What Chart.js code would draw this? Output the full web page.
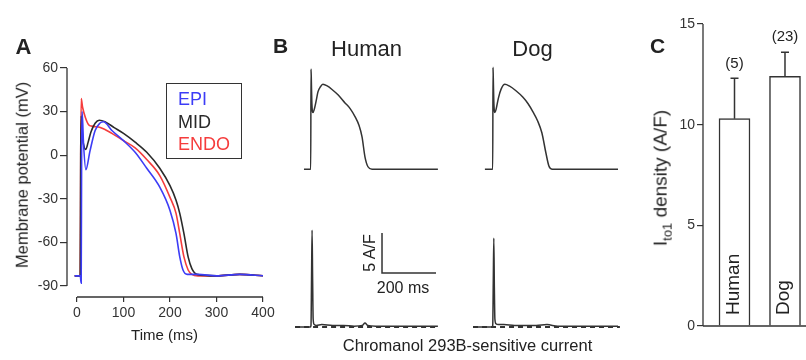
<!DOCTYPE html>
<html>
<head>
<meta charset="utf-8">
<script src="https://cdn.jsdelivr.net/npm/chart.js@4.4.1/dist/chart.umd.min.js"></script>
<style>
  body { margin: 0; background: #fff; }
  #wrap { position: relative; width: 806px; height: 360px; overflow: hidden; font-family: "Liberation Sans", Arial, sans-serif; color: #222; }
  canvas { position: absolute; }
  .lbl { position: absolute; white-space: nowrap; line-height: 1; transform: translate(-50%, -50%); }
  .rot { position: absolute; white-space: nowrap; line-height: 1; transform: translate(-50%, -50%) rotate(-90deg); }
  .panel { font-weight: bold; font-size: 22px; }
  #legendA { position: absolute; left: 166px; top: 83px; width: 76px; height: 76px; box-sizing: border-box;
             border: 1.5px solid #333; padding: 4px 0 0 11px; font-size: 18px; line-height: 22.5px; }
</style>
</head>
<body>
<div id="wrap">
  <canvas id="chartA" width="280" height="360" style="left:0;top:0"></canvas>
  <canvas id="hAP" width="150" height="120" style="left:295px;top:60px"></canvas>
  <canvas id="dAP" width="150" height="120" style="left:470px;top:60px"></canvas>
  <canvas id="hCur" width="150" height="120" style="left:295px;top:220px"></canvas>
  <canvas id="dCur" width="150" height="120" style="left:470px;top:220px"></canvas>
  <canvas id="chartC" width="186" height="360" style="left:620px;top:0"></canvas>

  <div class="lbl panel" style="left:23.5px;top:46.5px">A</div>
  <div class="lbl panel" style="left:280.5px;top:44.5px;font-size:21px">B</div>
  <div class="lbl panel" style="left:657.5px;top:45px;font-size:21px">C</div>

  <div class="rot" style="left:22px;top:175px;font-size:16.5px">Membrane potential (mV)</div>
  <div class="lbl" style="left:164.5px;top:334px;font-size:15px">Time (ms)</div>
  <div id="legendA"></div>

  <div class="lbl" style="left:366.5px;top:49px;font-size:22px">Human</div>
  <div class="lbl" style="left:532.5px;top:49px;font-size:22px">Dog</div>
  <div class="rot" style="left:370px;top:253px;font-size:16px">5 A/F</div>
  <div class="lbl" style="left:403px;top:288px;font-size:16px">200 ms</div>
  <div class="lbl" style="left:467.5px;top:345px;font-size:16.5px">Chromanol 293B-sensitive current</div>

  <div class="rot" style="left:662px;top:178px;font-size:19px">I<sub style="font-size:13px">to1</sub> density (A/F)</div>
</div>

<script>
Chart.defaults.font.family = '"Liberation Sans", Arial, sans-serif';
Chart.defaults.color = '#333';

// panel A: action potentials (ms, mV)
var epiT = [-5, 7, 9, 10, 11, 14, 19, 28, 39, 49, 57, 75, 100, 125, 150, 178, 200, 213, 221, 228, 237, 260, 300, 350, 400];
var epiV = [-83, -83, -88, 5, 30, 8, -10, 3, 17, 22, 23, 17, 10, 2, -9, -22, -38, -54, -70, -79, -82, -82, -83, -82, -83];
var midT = [-5, 7, 8, 9, 12, 16, 19, 24, 30, 39, 48, 60, 80, 100, 125, 150, 178, 200, 213, 221, 230, 239, 247, 258, 300, 350, 400];
var midV = [-83, -83, 0, 27, 12, 5, 4, 9, 16, 22, 24, 23, 19, 15, 9, 2, -9, -21, -31, -40, -54, -70, -78, -82, -83, -82, -83];
var endoT = [-5, 7, 8, 9, 12, 18, 25, 32, 50, 75, 100, 125, 150, 178, 200, 213, 221, 230, 239, 247, 260, 300, 350, 400];
var endoV = [-83, -83, 0, 39, 33, 26, 21, 20, 19, 15, 10, 5, -3, -14, -29, -40, -54, -70, -79, -82, -83, -83, -82, -83];
var xTicksA = [0, 100, 200, 300, 400];
var yTicksA = [-90, -60, -30, 0, 30, 60];

// panel B: human / dog AP (mV) and chromanol 293B-sensitive current (A/F)
var hApT = [-26, -1, 0, 1, 3, 5, 7, 12, 20, 26, 35, 44, 60, 80, 100, 126, 145, 163, 178, 189, 200, 211, 226, 260, 350, 470];
var hApV = [-84, -84, 40, 30, 0, -12, -14, -10, 2, 12, 18, 21, 19, 14, 8, -2, -9, -19, -30, -44, -69, -81, -84, -84, -84, -84];
var dApT = [-30, -1, 0, 1, 3, 5, 7, 12, 20, 30, 44, 60, 85, 111, 130, 148, 165, 181, 196, 207, 220, 260, 350, 463];
var dApV = [-84, -84, 42, 30, 0, -12, -14, -9, 4, 15, 21, 19, 13, 5, -3, -13, -24, -39, -64, -80, -84, -84, -84, -84];
var hCurT = [-59, -2, 0, 2, 4, 6, 8, 12, 20, 40, 80, 120, 160, 190, 200, 210, 240, 300, 380, 470];
var hCurI = [0, 0, 0.2, 6, 12.1, 6, 1, 0.3, 0.2, 0.3, 0.2, 0.2, 0.1, 0.2, 0.5, 0.2, 0.1, 0.1, 0.1, 0.1];
var dCurT = [-74, -3, -1, 1, 3, 5, 7, 11, 20, 40, 80, 120, 160, 200, 240, 300, 380, 463];
var dCurI = [0, 0, 0.2, 5.5, 11.1, 5, 1, 0.4, 0.3, 0.3, 0.2, 0.2, 0.2, 0.3, 0.1, 0.1, 0.1, 0.1];
var hZeroT = [-59, 470];
var dZeroT = [-74, 470];
var barT = [263, 263, 463];      // 200 ms
var barI = [11.75, 6.75, 6.75];  // 5 A/F

// panel C: Ito1 density
var groups = ['Human', 'Dog'];
var density = [10.3, 12.4];
var sem = [2.0, 1.2];
var nCells = ['(5)', '(23)'];
var yTicksC = [0, 5, 10, 15];

function pts(xs, ys) {
  return xs.map(function (x, i) { return { x: x, y: ys[i] }; });
}

// axis lines drawn only over the ticked range
var axisLines = {
  id: 'axisLines',
  afterDraw: function (chart, args, opts) {
    var ctx = chart.ctx, a = chart.chartArea, x = chart.scales.x, y = chart.scales.y;
    ctx.save();
    ctx.strokeStyle = '#333';
    ctx.lineWidth = 1.3;
    ctx.beginPath();
    ctx.moveTo(a.left, y.getPixelForValue(opts.yFrom));
    ctx.lineTo(a.left, y.getPixelForValue(opts.yTo));
    ctx.moveTo(opts.xFrom == null ? a.left : x.getPixelForValue(opts.xFrom), a.bottom);
    ctx.lineTo(opts.xTo == null ? a.right : x.getPixelForValue(opts.xTo), a.bottom);
    ctx.stroke();
    ctx.restore();
  }
};

var chartA = new Chart(document.getElementById('chartA'), {
  type: 'line',
  data: {
    datasets: [
      { label: 'EPI', data: pts(epiT, epiV), borderColor: '#3c3cf6' },
      { label: 'MID', data: pts(midT, midV), borderColor: '#2a2a2a' },
      { label: 'ENDO', data: pts(endoT, endoV), borderColor: '#f53c3c' }
    ]
  },
  plugins: [axisLines],
  options: {
    responsive: false, animation: false, events: [],
    layout: { padding: { left: 0, top: 68, right: 17, bottom: 0 } },
    elements: { point: { radius: 0 }, line: { borderWidth: 1.6, cubicInterpolationMode: 'monotone' } },
    plugins: { legend: { display: false }, tooltip: { enabled: false },
      axisLines: { xFrom: 0, xTo: 400, yFrom: -90, yTo: 60 } },
    scales: {
      x: {
        type: 'linear', min: -21.5, max: 400,
        afterBuildTicks: function (s) { s.ticks = xTicksA.map(function (v) { return { value: v }; }); },
        afterFit: function (s) { s.height = 63; },
        grid: { drawOnChartArea: false, tickLength: 5, color: '#333', lineWidth: 1.2 },
        border: { display: false },
        ticks: { font: { size: 14 }, padding: 3, maxRotation: 0 }
      },
      y: {
        min: -97.57, max: 60,
        afterBuildTicks: function (s) { s.ticks = yTicksA.map(function (v) { return { value: v }; }); },
        afterFit: function (s) { s.width = 67; },
        grid: { drawOnChartArea: false, tickLength: 7, color: '#333', lineWidth: 1.2 },
        border: { display: false },
        ticks: { font: { size: 14 }, padding: 2 }
      }
    }
  }
});

// html legend from the datasets
var legendBox = document.getElementById('legendA');
chartA.data.datasets.forEach(function (ds) {
  var d = document.createElement('div');
  d.textContent = ds.label;
  d.style.color = ds.borderColor;
  legendBox.appendChild(d);
});

function traceChart(id, datasets, xMin, xMax, yMin, yMax) {
  return new Chart(document.getElementById(id), {
    type: 'line',
    data: { datasets: datasets },
    options: {
      responsive: false, animation: false, events: [],
      layout: { padding: 0 },
      plugins: { legend: { display: false }, tooltip: { enabled: false } },
      elements: { point: { radius: 0 }, line: { borderWidth: 1.5, borderColor: '#333', cubicInterpolationMode: 'monotone' } },
      scales: {
        x: { type: 'linear', display: false, min: xMin, max: xMax },
        y: { display: false, min: yMin, max: yMax }
      }
    }
  });
}

traceChart('hAP', [{ data: pts(hApT, hApV) }], -59.26, 496.3, -97.4, 51.1);
traceChart('dAP', [{ data: pts(dApT, dApV) }], -85.19, 470.37, -97.4, 51.1);
traceChart('hCur', [
  { data: pts(hCurT, hCurI) },
  { data: pts(hZeroT, [0, 0]), borderDash: [5, 4], borderWidth: 1.8 },
  { data: pts(barT, barI), cubicInterpolationMode: 'default', tension: 0 }
], -59.26, 496.3, -1.625, 13.375);
traceChart('dCur', [
  { data: pts(dCurT, dCurI) },
  { data: pts(dZeroT, [0, 0]), borderDash: [5, 4], borderWidth: 1.8 }
], -85.19, 470.37, -1.625, 13.375);

// error bars, n labels and rotated group names for panel C
var barExtras = {
  id: 'barExtras',
  afterDatasetsDraw: function (chart) {
    var ctx = chart.ctx, y = chart.scales.y;
    var meta = chart.getDatasetMeta(0);
    ctx.save();
    meta.data.forEach(function (bar, i) {
      var yTop = y.getPixelForValue(density[i] + sem[i]);
      ctx.strokeStyle = '#333';
      ctx.lineWidth = 1.5;
      ctx.beginPath();
      ctx.moveTo(bar.x, bar.y);
      ctx.lineTo(bar.x, yTop);
      ctx.moveTo(bar.x - 4, yTop);
      ctx.lineTo(bar.x + 4, yTop);
      ctx.stroke();
      ctx.fillStyle = '#222';
      ctx.font = '15px "Liberation Sans", Arial, sans-serif';
      ctx.textAlign = 'center';
      ctx.textBaseline = 'middle';
      ctx.fillText(nCells[i], bar.x, yTop - 15);
      ctx.save();
      ctx.translate(bar.x - 1, y.getPixelForValue(0) - 11);
      ctx.rotate(-Math.PI / 2);
      ctx.font = '19px "Liberation Sans", Arial, sans-serif';
      ctx.textAlign = 'left';
      ctx.fillText(groups[i], 0, 0);
      ctx.restore();
    });
    ctx.restore();
  }
};

new Chart(document.getElementById('chartC'), {
  type: 'bar',
  data: {
    datasets: [{
      data: pts(groups.map(function (g, i) { return i + 1; }), density),
      backgroundColor: '#fff', borderColor: '#333', borderWidth: 1.5, barThickness: 31
    }]
  },
  plugins: [axisLines, barExtras],
  options: {
    responsive: false, animation: false, events: [],
    layout: { padding: { left: 0, top: 24, right: 0, bottom: 34 } },
    plugins: { legend: { display: false }, tooltip: { enabled: false },
      axisLines: { yFrom: 0, yTo: 15 } },
    scales: {
      x: { type: 'linear', display: false, offset: false, min: 0.376, max: 2.416 },
      y: {
        min: 0, max: 15,
        afterBuildTicks: function (s) { s.ticks = yTicksC.map(function (v) { return { value: v }; }); },
        afterFit: function (s) { s.width = 83; },
        grid: { drawOnChartArea: false, tickLength: 6, color: '#333', lineWidth: 1.2 },
        border: { display: false },
        ticks: { font: { size: 14 }, padding: 2 }
      }
    }
  }
});
</script>
</body>
</html>
